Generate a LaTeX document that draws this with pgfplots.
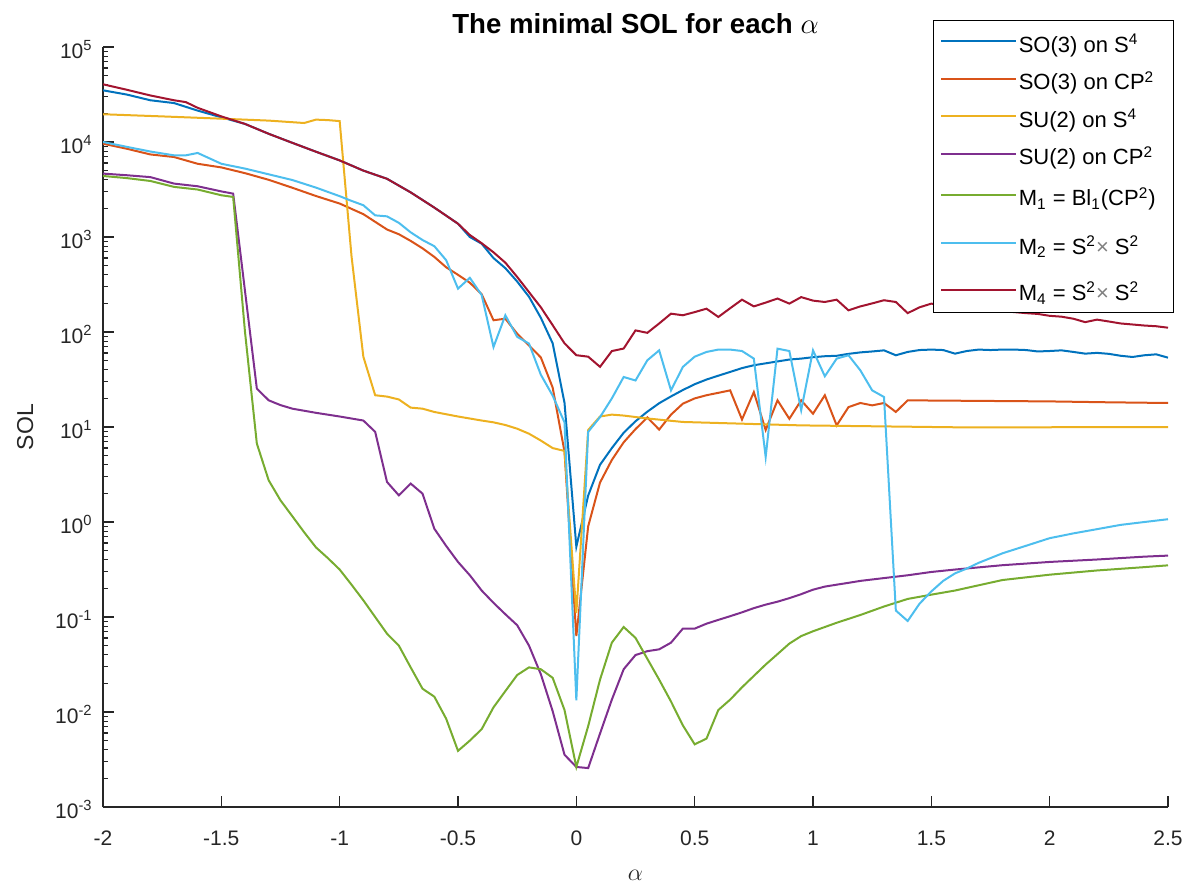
\documentclass[border=0pt]{standalone}
\usepackage{pgfplots}
\pgfplotsset{compat=1.18}
\usepackage{fontspec}
\setmainfont{Liberation Sans}
\definecolor{c1}{rgb}{0,0.447,0.741}
\definecolor{c2}{rgb}{0.850,0.325,0.098}
\definecolor{c3}{rgb}{0.929,0.694,0.125}
\definecolor{c4}{rgb}{0.494,0.184,0.556}
\definecolor{c5}{rgb}{0.466,0.674,0.188}
\definecolor{c6}{rgb}{0.301,0.745,0.933}
\definecolor{c7}{rgb}{0.635,0.078,0.184}
\definecolor{axgray}{rgb}{0.15,0.15,0.15}
\tikzset{rowA/.style={text height=14.875pt, text depth=3.875pt},
         rowM1/.style={text height=16.625pt, text depth=5.625pt},
         rowM2/.style={text height=18.5pt, text depth=7.5pt},
         rowM4/.style={text height=15.85pt, text depth=4.85pt}}
\begin{document}
\begin{tikzpicture}
\begin{axis}[
  scale only axis, width=532.5pt, height=380pt,
  xmin=-2, xmax=2.5, ymin=1e-3, ymax=1e5, ymode=log,
  axis x line*=bottom, axis y line*=left,
  axis line style={draw=axgray, line width=0.6pt, -},
  tick align=inside, major tick length=5.3pt, minor tick length=2.7pt,
  tick style={draw=axgray, line width=0.6pt},
  xtick={-2,-1.5,-1,-0.5,0,0.5,1,1.5,2,2.5},
  xticklabels={-2,-1.5,-1,-0.5,0,0.5,1,1.5,2,2.5},
  ytick={1e-3,1e-2,1e-1,1,10,100,1000,1e4,1e5},
  yticklabels={10\textsuperscript{-3},10\textsuperscript{-2},10\textsuperscript{-1},10\textsuperscript{0},10\textsuperscript{1},10\textsuperscript{2},10\textsuperscript{3},10\textsuperscript{4},10\textsuperscript{5}},
  minor ytick={2e-3,3e-3,4e-3,5e-3,6e-3,7e-3,8e-3,9e-3,
    2e-2,3e-2,4e-2,5e-2,6e-2,7e-2,8e-2,9e-2,
    0.2,0.3,0.4,0.5,0.6,0.7,0.8,0.9,
    2,3,4,5,6,7,8,9,20,30,40,50,60,70,80,90,
    200,300,400,500,600,700,800,900,2000,3000,4000,5000,6000,7000,8000,9000,
    2e4,3e4,4e4,5e4,6e4,7e4,8e4,9e4},
  xticklabel style={font=\fontsize{10.5}{12}\selectfont, text=axgray, inner sep=0pt, anchor=base, yshift=-19pt},
  yticklabel style={font=\fontsize{10.5}{12}\selectfont, text=axgray, inner sep=0pt, anchor=base east, xshift=-5pt, yshift=-5.8pt},
  every axis title shift=0pt,
  title={\textbf{The minimal SOL for each $\alpha$}},
  title style={font=\fontsize{13.8}{15}\selectfont, at={(axis description cs:0.5,1.0184)}, anchor=base, inner sep=0pt},
  xlabel={$\alpha$},
  xlabel style={font=\fontsize{11.5}{13}\selectfont, text=axgray, at={(axis description cs:0.5,-0.0961)}, anchor=base, inner sep=0pt},
  ylabel={SOL},
  ylabel style={font=\fontsize{11.5}{13}\selectfont, text=axgray, at={(axis description cs:-0.0657,0.5)}, anchor=base, inner sep=0pt},
  legend style={at={(1.0056,1.0355)}, anchor=north east, draw=black, line width=0.7pt, fill=white,
    font=\fontsize{11}{13}\selectfont, inner xsep=3.6pt, inner ysep=1pt, row sep=0pt,
    nodes={inner xsep=0.7pt, inner ysep=0pt}},
  legend cell align=left,
  legend image code/.code={\draw[#1,line width=1pt] (0pt,0pt) -- (37.5pt,0pt);},
]
\addplot[c1, line width=1pt] coordinates {(-2,35000) (-1.9,31600) (-1.8,27500) (-1.7,25700) (-1.6,21400) (-1.5,18200) (-1.4,15500) (-1.3,12200) (-1.2,9800) (-1.1,7900) (-1,6400) (-0.9,5000) (-0.8,4100) (-0.7,2950) (-0.6,2040) (-0.5,1380) (-0.45,1000) (-0.4,850) (-0.35,600) (-0.3,470) (-0.25,340) (-0.2,235) (-0.15,141) (-0.1,76) (-0.05,18) (0,0.55) (0.05,1.9) (0.1,4.0) (0.15,6.0) (0.2,8.7) (0.25,11.5) (0.3,14.5) (0.35,17.8) (0.4,21) (0.45,24.5) (0.5,28.2) (0.55,31.6) (0.6,34.7) (0.65,38.0) (0.7,41.7) (0.75,44.7) (0.8,46.8) (0.85,49.0) (0.9,51.3) (0.95,52.5) (1,54.3) (1.05,55.6) (1.1,56.2) (1.15,58.9) (1.2,61) (1.25,62.4) (1.3,64.1) (1.35,56.9) (1.4,61.7) (1.45,64.6) (1.5,65.3) (1.55,64.6) (1.6,59.2) (1.65,63.1) (1.7,65.3) (1.75,64.6) (1.8,65.3) (1.85,65.3) (1.9,64.6) (1.95,62.4) (2,63.1) (2.05,64.1) (2.1,61.7) (2.15,59.2) (2.2,60.3) (2.25,58.9) (2.3,56.2) (2.35,54.6) (2.4,56.9) (2.45,58.2) (2.5,53.7)};
\addlegendentry[rowA]{SO(3) on S\textsuperscript{4}}
\addplot[c2, line width=1pt] coordinates {(-2,9600) (-1.9,8500) (-1.8,7400) (-1.7,6950) (-1.6,5900) (-1.5,5400) (-1.4,4700) (-1.3,4000) (-1.2,3300) (-1.1,2700) (-1,2250) (-0.9,1740) (-0.8,1200) (-0.75,1070) (-0.7,910) (-0.65,760) (-0.6,617) (-0.55,480) (-0.5,400) (-0.45,330) (-0.4,250) (-0.35,133) (-0.3,138) (-0.25,96) (-0.2,72) (-0.15,54) (-0.1,26) (-0.05,5.5) (0,0.063) (0.05,0.9) (0.1,2.6) (0.15,4.5) (0.2,6.9) (0.25,9.5) (0.3,12.6) (0.35,9.4) (0.4,13.5) (0.45,17.6) (0.5,20) (0.55,21.6) (0.6,22.9) (0.65,24.3) (0.7,12) (0.75,23.3) (0.8,9.3) (0.85,19.1) (0.9,12.2) (0.95,19.1) (1,13.8) (1.05,21.6) (1.1,10.4) (1.15,16.2) (1.2,17.9) (1.25,16.9) (1.3,17.9) (1.35,14.4) (1.4,19.1) (1.5,19.0) (1.75,18.8) (2,18.6) (2.25,18.2) (2.5,17.9)};
\addlegendentry[rowA]{SO(3) on CP\textsuperscript{2}}
\addplot[c3, line width=1pt] coordinates {(-2,19600) (-1.75,18600) (-1.5,17600) (-1.3,16800) (-1.15,15850) (-1.1,17200) (-1.05,17000) (-1,16600) (-0.95,630) (-0.9,55) (-0.85,21.6) (-0.8,20.9) (-0.75,19.5) (-0.7,16) (-0.65,15.6) (-0.6,14.4) (-0.5,12.9) (-0.4,11.7) (-0.35,11.2) (-0.3,10.5) (-0.25,9.6) (-0.2,8.5) (-0.15,7.2) (-0.1,6.0) (-0.05,5.6) (0,0.11) (0.05,9.3) (0.1,12.9) (0.15,13.5) (0.2,13.2) (0.3,12.3) (0.45,11.3) (0.95,10.4) (1.65,9.9) (2.5,10)};
\addlegendentry[rowA]{SU(2) on S\textsuperscript{4}}
\addplot[c4, line width=1pt] coordinates {(-2,4650) (-1.9,4470) (-1.8,4270) (-1.7,3650) (-1.6,3420) (-1.5,3020) (-1.45,2860) (-1.4,270) (-1.35,25.4) (-1.3,19.1) (-1.25,17) (-1.2,15.6) (-1.1,14.1) (-1,12.9) (-0.9,11.7) (-0.85,8.9) (-0.8,2.64) (-0.75,1.91) (-0.7,2.54) (-0.65,1.99) (-0.6,0.85) (-0.55,0.56) (-0.5,0.38) (-0.45,0.275) (-0.4,0.19) (-0.35,0.141) (-0.3,0.107) (-0.25,0.082) (-0.2,0.05) (-0.15,0.025) (-0.1,0.0102) (-0.05,0.00355) (0,0.00264) (0.05,0.00257) (0.1,0.00593) (0.15,0.0135) (0.2,0.0282) (0.25,0.0398) (0.3,0.0437) (0.35,0.0457) (0.4,0.0537) (0.45,0.0755) (0.5,0.0755) (0.55,0.0851) (0.6,0.0933) (0.65,0.102) (0.7,0.112) (0.75,0.124) (0.8,0.135) (0.85,0.145) (0.9,0.158) (0.95,0.174) (1,0.194) (1.05,0.209) (1.1,0.219) (1.15,0.229) (1.2,0.24) (1.3,0.257) (1.4,0.275) (1.5,0.298) (1.6,0.316) (1.8,0.351) (2,0.38) (2.2,0.403) (2.4,0.432) (2.5,0.443)};
\addlegendentry[rowA]{SU(2) on CP\textsuperscript{2}}
\addplot[c5, line width=1pt] coordinates {(-2,4390) (-1.9,4170) (-1.8,3890) (-1.7,3370) (-1.6,3160) (-1.5,2750) (-1.45,2640) (-1.4,100) (-1.35,6.7) (-1.3,2.75) (-1.25,1.69) (-1.2,1.15) (-1.15,0.78) (-1.1,0.54) (-1.05,0.417) (-1,0.316) (-0.95,0.219) (-0.9,0.15) (-0.85,0.1) (-0.8,0.0668) (-0.75,0.05) (-0.7,0.0295) (-0.65,0.0176) (-0.6,0.0145) (-0.55,0.0085) (-0.5,0.0039) (-0.45,0.005) (-0.4,0.0066) (-0.35,0.0112) (-0.3,0.0166) (-0.25,0.0245) (-0.2,0.0295) (-0.15,0.0282) (-0.1,0.0229) (-0.05,0.0105) (0,0.00264) (0.05,0.0071) (0.1,0.0219) (0.15,0.0537) (0.2,0.0785) (0.25,0.0603) (0.3,0.0363) (0.35,0.0219) (0.4,0.0129) (0.45,0.00724) (0.5,0.00457) (0.55,0.00525) (0.6,0.0105) (0.65,0.0135) (0.7,0.0182) (0.75,0.024) (0.8,0.0316) (0.85,0.0407) (0.9,0.0525) (0.95,0.063) (1,0.0708) (1.1,0.087) (1.2,0.105) (1.3,0.129) (1.4,0.155) (1.5,0.172) (1.6,0.19) (1.8,0.245) (2,0.279) (2.2,0.309) (2.4,0.335) (2.5,0.35)};
\addlegendentry[rowM1]{M\textsubscript{1} = Bl\textsubscript{1}(CP\textsuperscript{2})\kern4.5pt}
\addplot[c6, line width=1pt] coordinates {(-2,10000) (-1.9,8900) (-1.8,7940) (-1.7,7240) (-1.65,7240) (-1.6,7670) (-1.5,5900) (-1.4,5250) (-1.3,4570) (-1.2,3980) (-1.1,3310) (-1,2690) (-0.95,2400) (-0.9,2160) (-0.85,1690) (-0.8,1650) (-0.75,1410) (-0.7,1120) (-0.65,930) (-0.6,800) (-0.55,570) (-0.5,286) (-0.45,372) (-0.4,245) (-0.35,69.5) (-0.3,150) (-0.25,89) (-0.2,75.5) (-0.15,35.5) (-0.1,21.4) (-0.05,11.2) (0,0.0133) (0.05,8.9) (0.1,12.7) (0.15,20) (0.2,33.6) (0.25,30.9) (0.3,50.4) (0.35,64.1) (0.4,24.3) (0.45,42.9) (0.5,55) (0.55,61.7) (0.6,65.3) (0.65,65.3) (0.7,63.1) (0.75,52.5) (0.8,4.83) (0.85,66.8) (0.9,63.1) (0.95,15) (1,64.1) (1.05,34.2) (1.1,52.5) (1.15,56.9) (1.2,39.5) (1.25,24.3) (1.3,20.7) (1.35,0.117) (1.4,0.0908) (1.45,0.138) (1.5,0.186) (1.55,0.24) (1.6,0.288) (1.65,0.324) (1.7,0.372) (1.75,0.417) (1.8,0.468) (1.9,0.562) (2,0.676) (2.1,0.759) (2.2,0.841) (2.3,0.933) (2.4,1.0) (2.5,1.07)};
\addlegendentry[rowM2]{M\textsubscript{2} = S\textsuperscript{2}{\color{gray}×} S\textsuperscript{2}}
\addplot[c7, line width=1pt] coordinates {(-2,40500) (-1.9,35500) (-1.8,30900) (-1.7,27500) (-1.65,26300) (-1.6,22900) (-1.5,18600) (-1.4,15500) (-1.3,12200) (-1.2,9800) (-1.1,7900) (-1,6400) (-0.9,5000) (-0.8,4100) (-0.7,2950) (-0.6,2040) (-0.5,1380) (-0.45,1050) (-0.4,860) (-0.35,690) (-0.3,537) (-0.25,380) (-0.2,263) (-0.15,182) (-0.1,118) (-0.05,76) (0,57) (0.05,55) (0.1,43) (0.15,63) (0.2,67) (0.25,104) (0.3,98) (0.35,123) (0.4,156) (0.45,150) (0.5,162) (0.55,176) (0.6,144) (0.65,178) (0.7,219) (0.75,186) (0.8,204) (0.85,225) (0.9,199) (0.95,233) (1,214) (1.05,207) (1.1,219) (1.15,169) (1.2,186) (1.25,200) (1.3,216) (1.35,207) (1.4,158) (1.45,182) (1.5,199) (1.55,190) (1.6,182) (1.65,178) (1.7,174) (1.75,170) (1.8,166) (1.85,162) (1.9,158) (1.95,155) (2,148) (2.05,145) (2.1,138) (2.15,127) (2.2,135) (2.25,129) (2.3,123) (2.35,120) (2.4,117) (2.45,115) (2.5,111)};
\addlegendentry[rowM4]{M\textsubscript{4} = S\textsuperscript{2}{\color{gray}×} S\textsuperscript{2}}
\coordinate (bl) at (rel axis cs:0,0);
\coordinate (tr) at (rel axis cs:1,1);
\end{axis}
\pgfresetboundingbox
\path ([shift={(-51.5pt,-38.5pt)}]bl) rectangle ([shift={(10.5pt,23.5pt)}]tr);
\end{tikzpicture}
\end{document}
